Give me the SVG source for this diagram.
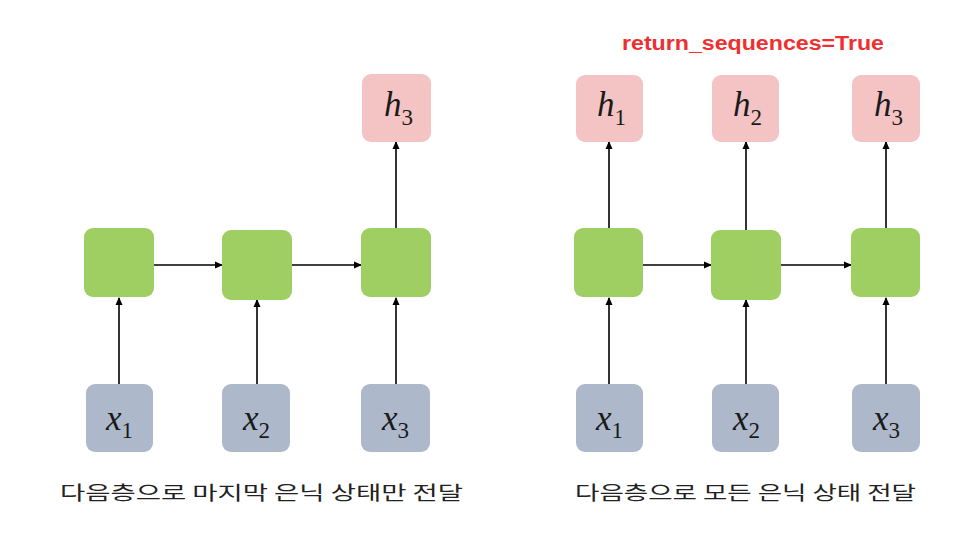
<svg xmlns="http://www.w3.org/2000/svg" width="980" height="544" viewBox="0 0 980 544">
<defs>
<marker id="ah" markerWidth="8" markerHeight="8" refX="7" refY="4" orient="auto" markerUnits="userSpaceOnUse">
<path d="M0,0.5 L8,4 L0,7.5 Z" fill="#000"/>
</marker>
<style>
.g{fill:#9fce63}
.p{fill:#f4c3c3}
.b{fill:#adb9ca}
.m{font-family:"Liberation Serif","DejaVu Serif",serif;font-style:italic;font-size:35px;fill:#1a1a1a}
.s{font-family:"Liberation Serif","DejaVu Serif",serif;font-style:normal;font-size:23px;fill:#1a1a1a}
.c{stroke:#000;stroke-width:1.6;fill:none;marker-end:url(#ah)}
.cap{font-family:"Noto Sans CJK KR","Noto Sans",sans-serif;font-size:19px;fill:#222}
</style>
</defs>
<rect width="980" height="544" fill="#fff"/>
<text x="753" y="50" text-anchor="middle" font-family="'Liberation Sans',sans-serif" font-weight="bold" font-size="20" fill="#ee3030" textLength="262" lengthAdjust="spacingAndGlyphs">return_sequences=True</text>
<g id="connectors">
<line class="c" x1="119" y1="384" x2="119" y2="298"/>
<line class="c" x1="257" y1="384" x2="257" y2="300"/>
<line class="c" x1="396" y1="384" x2="396" y2="298"/>
<line class="c" x1="153" y1="265" x2="222" y2="265"/>
<line class="c" x1="292" y1="265" x2="361" y2="265"/>
<line class="c" x1="396" y1="228" x2="396" y2="142"/>
<line class="c" x1="609" y1="384" x2="609" y2="298"/>
<line class="c" x1="746" y1="384" x2="746" y2="300"/>
<line class="c" x1="886" y1="384" x2="886" y2="298"/>
<line class="c" x1="643" y1="265" x2="711" y2="265"/>
<line class="c" x1="781" y1="265" x2="851" y2="265"/>
<line class="c" x1="609" y1="228" x2="609" y2="142"/>
<line class="c" x1="746" y1="230" x2="746" y2="142"/>
<line class="c" x1="886" y1="228" x2="886" y2="142"/>
</g>
<g id="L_g1"><rect class="g" x="84" y="228" width="70" height="69" rx="9"/></g>
<g id="L_g2"><rect class="g" x="222" y="230" width="70" height="70" rx="9"/></g>
<g id="L_g3"><rect class="g" x="361" y="228" width="70" height="69" rx="9"/></g>
<g id="L_h3"><rect class="p" x="362" y="74" width="69" height="68" rx="9"/><text class="m" x="384" y="116">h<tspan class="s" dy="9">3</tspan></text></g>
<g id="L_x1"><rect class="b" x="86" y="384" width="67" height="68" rx="9"/><text class="m" x="106" y="430">x<tspan class="s" dy="8">1</tspan></text></g>
<g id="L_x2"><rect class="b" x="222" y="384" width="68" height="68" rx="9"/><text class="m" x="243" y="430">x<tspan class="s" dy="8">2</tspan></text></g>
<g id="L_x3"><rect class="b" x="361" y="384" width="69" height="68" rx="9"/><text class="m" x="382" y="430">x<tspan class="s" dy="8">3</tspan></text></g>
<g id="R_g1"><rect class="g" x="574" y="228" width="69" height="69" rx="9"/></g>
<g id="R_g2"><rect class="g" x="711" y="230" width="70" height="70" rx="9"/></g>
<g id="R_g3"><rect class="g" x="851" y="228" width="69" height="69" rx="9"/></g>
<g id="R_h1"><rect class="p" x="576" y="75" width="67" height="67" rx="9"/><text class="m" x="597" y="116">h<tspan class="s" dy="9">1</tspan></text></g>
<g id="R_h2"><rect class="p" x="712" y="75" width="67" height="67" rx="9"/><text class="m" x="733" y="116">h<tspan class="s" dy="9">2</tspan></text></g>
<g id="R_h3"><rect class="p" x="852" y="75" width="68" height="67" rx="9"/><text class="m" x="874" y="116">h<tspan class="s" dy="9">3</tspan></text></g>
<g id="R_x1"><rect class="b" x="576" y="384" width="67" height="68" rx="9"/><text class="m" x="596" y="430">x<tspan class="s" dy="8">1</tspan></text></g>
<g id="R_x2"><rect class="b" x="712" y="384" width="67" height="68" rx="9"/><text class="m" x="733" y="430">x<tspan class="s" dy="8">2</tspan></text></g>
<g id="R_x3"><rect class="b" x="852" y="384" width="68" height="68" rx="9"/><text class="m" x="873" y="430">x<tspan class="s" dy="8">3</tspan></text></g>
<text class="cap" x="60" y="500" textLength="403" lengthAdjust="spacingAndGlyphs">다음층으로 마지막 은닉 상태만 전달</text>
<text class="cap" x="575" y="500" textLength="341" lengthAdjust="spacingAndGlyphs">다음층으로 모든 은닉 상태 전달</text>
</svg>
